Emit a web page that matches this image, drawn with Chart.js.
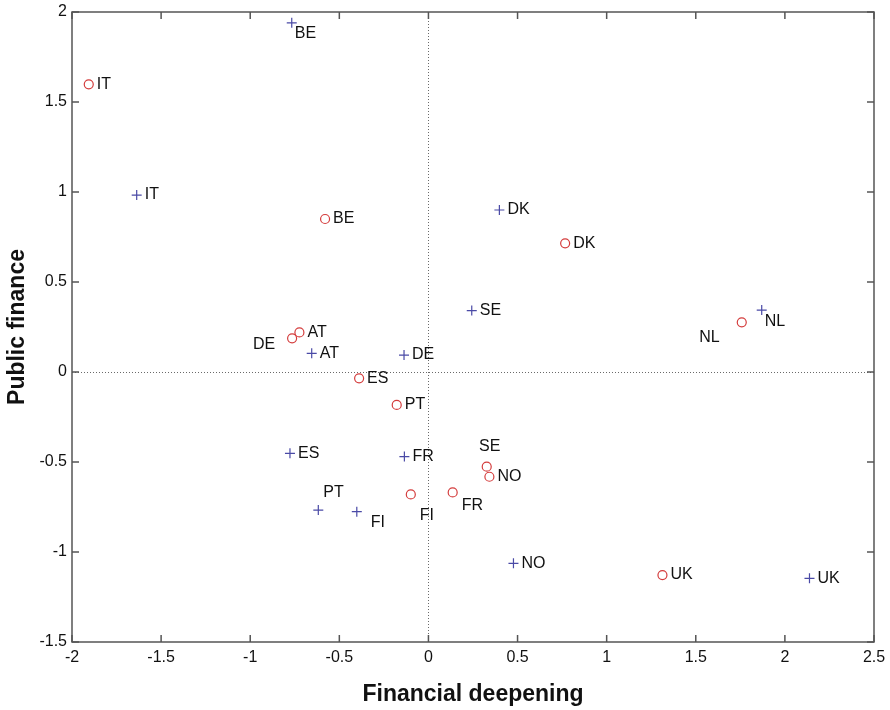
<!DOCTYPE html>
<html>
<head>
<meta charset="utf-8">
<script src="https://cdn.jsdelivr.net/npm/chart.js@4/dist/chart.umd.min.js"></script>
<style>
  html, body { margin: 0; padding: 0; background: #ffffff; }
  #wrap { width: 890px; height: 710px; position: relative; }
</style>
</head>
<body>
<div id="wrap"><canvas id="c" width="890" height="710"></canvas></div>
<script>
// ---- Data ----
const countries = ['AT','BE','DE','DK','ES','FI','FR','IT','NL','NO','PT','SE','UK'];

// "+" series
const crossX = [-0.655, -0.767, -0.137, 0.398, -0.777, -0.402, -0.135, -1.637, 1.870, 0.477, -0.618, 0.243, 2.138];
const crossY = [ 0.104,  1.940,  0.094, 0.900, -0.452, -0.776, -0.470,  0.983, 0.344, -1.063, -0.767, 0.341, -1.146];

// "o" series
const circleX = [-0.724, -0.580, -0.765, 0.767, -0.389, -0.099, 0.136, -1.906, 1.758, 0.342, -0.178, 0.327, 1.313];
const circleY = [ 0.220,  0.850,  0.187, 0.715, -0.035, -0.680, -0.669, 1.598, 0.276, -0.582, -0.183, -0.526, -1.128];

// axis ticks
const xTicks = [-2, -1.5, -1, -0.5, 0, 0.5, 1, 1.5, 2, 2.5];
const yTicks = [-1.5, -1, -0.5, 0, 0.5, 1, 1.5, 2];

const xTitle = 'Financial deepening';
const yTitle = 'Public finance';

// ---- label placement (styling, not data) ----
const defaultLabelOffset = [8, 0, 'left'];
const labelOffsets = {
  cross:  { BE: [3, 11, 'left'], NL: [3, 12, 'left'], PT: [5, -17, 'left'], FI: [14, 11, 'left'] },
  circle: { NL: [-22, 15, 'right'], DE: [-17, 6, 'right'], SE: [3, -20, 'center'], FI: [9, 21, 'left'], FR: [9, 13, 'left'] }
};

const FONT = "'Liberation Sans', Arial, Helvetica, sans-serif";
const crossColor = '#4a4aa6';
const circleColor = '#d43c3c';

const crossData = countries.map((c, i) => ({ x: crossX[i], y: crossY[i], label: c }));
const circleData = countries.map((c, i) => ({ x: circleX[i], y: circleY[i], label: c }));

const fmt = v => String(Math.round(v * 10) / 10);

const labelPlugin = {
  id: 'pointLabels',
  afterDatasetsDraw(chart) {
    const ctx = chart.ctx;
    ctx.save();
    ctx.font = '16px ' + FONT;
    ctx.fillStyle = '#111111';
    ctx.textBaseline = 'middle';
    chart.data.datasets.forEach((ds, di) => {
      const meta = chart.getDatasetMeta(di);
      const key = ds.kind;
      meta.data.forEach((pt, i) => {
        const lab = ds.data[i].label;
        const off = (labelOffsets[key] && labelOffsets[key][lab]) || defaultLabelOffset;
        ctx.textAlign = off[2];
        ctx.fillText(lab, pt.x + off[0], pt.y + off[1]);
      });
    });
    ctx.restore();
  }
};

const framePlugin = {
  id: 'frameTicks',
  afterDraw(chart) {
    const { ctx, chartArea: a, scales } = chart;
    const xs = scales.x, ys = scales.y;
    const tl = 7;
    ctx.save();
    ctx.strokeStyle = '#555555';
    ctx.lineWidth = 1.5;
    ctx.beginPath();
    xTicks.forEach(v => {
      const px = xs.getPixelForValue(v);
      ctx.moveTo(px, a.bottom); ctx.lineTo(px, a.bottom - tl);
      ctx.moveTo(px, a.top); ctx.lineTo(px, a.top + tl);
    });
    yTicks.forEach(v => {
      const py = ys.getPixelForValue(v);
      ctx.moveTo(a.left, py); ctx.lineTo(a.left + tl, py);
      ctx.moveTo(a.right, py); ctx.lineTo(a.right - tl, py);
    });
    ctx.stroke();
    ctx.strokeRect(a.left, a.top, a.right - a.left, a.bottom - a.top);
    ctx.restore();
  }
};

new Chart(document.getElementById('c'), {
  type: 'scatter',
  data: {
    datasets: [
      {
        kind: 'cross',
        data: crossData,
        pointStyle: 'cross',
        pointRadius: 5,
        pointBorderWidth: 1.2,
        borderColor: crossColor,
        backgroundColor: crossColor,
        pointHoverRadius: 5
      },
      {
        kind: 'circle',
        data: circleData,
        pointStyle: 'circle',
        pointRadius: 4.5,
        pointBorderWidth: 1.2,
        borderColor: circleColor,
        backgroundColor: 'rgba(255,255,255,0)',
        pointHoverRadius: 4.5
      }
    ]
  },
  options: {
    responsive: false,
    animation: false,
    devicePixelRatio: 1,
    layout: { padding: { top: 12, right: 16, left: 0, bottom: 0 } },
    plugins: { legend: { display: false }, tooltip: { enabled: false } },
    scales: {
      x: {
        type: 'linear',
        min: xTicks[0], max: xTicks[xTicks.length - 1],
        afterFit(s) { s.height = 68; s.paddingLeft = 0; s.paddingRight = 0; },
        afterBuildTicks(s) { s.ticks = xTicks.map(v => ({ value: v })); },
        ticks: { padding: 6, color: '#111111', font: { family: FONT, size: 16 }, callback: v => fmt(v) },
        grid: {
          drawTicks: false,
          lineWidth: 1,
          color: c => (c.tick && c.tick.value === 0) ? '#6a6a6a' : 'rgba(0,0,0,0)'
        },
        border: { display: false, dash: [1, 2] },
        title: { display: true, text: xTitle, color: '#111', font: { family: FONT, size: 23, weight: 'bold' }, padding: { top: 0, bottom: 2 } }
      },
      y: {
        type: 'linear',
        min: yTicks[0], max: yTicks[yTicks.length - 1],
        afterFit(s) { s.width = 72; s.paddingTop = 0; s.paddingBottom = 0; },
        afterBuildTicks(s) { s.ticks = yTicks.map(v => ({ value: v })); },
        ticks: { padding: 5, color: '#111111', font: { family: FONT, size: 16 }, callback: v => fmt(v) },
        grid: {
          drawTicks: false,
          lineWidth: 1,
          color: c => (c.tick && c.tick.value === 0) ? '#6a6a6a' : 'rgba(0,0,0,0)'
        },
        border: { display: false, dash: [1, 2] },
        title: { display: true, text: yTitle, color: '#111', font: { family: FONT, size: 23, weight: 'bold' }, padding: { top: 4, bottom: 0 } }
      }
    }
  },
  plugins: [labelPlugin, framePlugin]
});
</script>
</body>
</html>
